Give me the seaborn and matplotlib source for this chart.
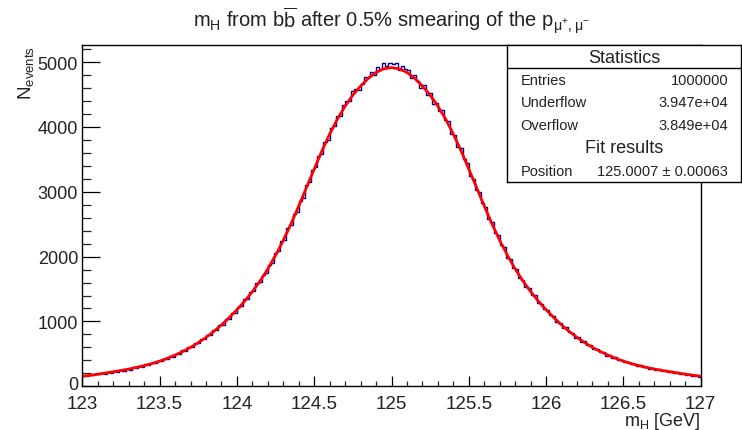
import numpy as np
import pandas as pd
import matplotlib
matplotlib.use("Agg")
import matplotlib.pyplot as plt
import matplotlib.transforms as mtransforms
import seaborn as sns
from matplotlib.ticker import MultipleLocator

# ---------------- data ----------------
mass_min, mass_max = 123.0, 127.0
bin_width = 0.02          # GeV per histogram bin
fit_step = 0.05           # GeV between tabulated fit-curve points

# histogram bin contents, 123.00 -> 127.00 GeV (200 bins of 0.02 GeV)
hist_counts = [
    166, 155, 178, 167, 193, 183, 208, 196, 224, 210,
    239, 226, 256, 242, 272, 259, 292, 281, 314, 302,
    337, 328, 365, 353, 393, 386, 427, 419, 466, 457,
    504, 501, 555, 550, 603, 599, 661, 660, 725, 723,
    790, 794, 867, 867, 946, 948, 1033, 1043, 1132, 1136,
    1226, 1244, 1342, 1346, 1450, 1468, 1589, 1605, 1724, 1743,
    1872, 1906, 2055, 2092, 2234, 2261, 2438, 2480, 2655, 2695,
    2862, 2911, 3100, 3149, 3338, 3381, 3548, 3585, 3774, 3803,
    3986, 4008, 4165, 4170, 4335, 4394, 4397, 4550, 4591, 4567,
    4664, 4777, 4770, 4846, 4797, 4921, 4893, 4990, 4943, 4991,
    4971, 4988, 4875, 4943, 4891, 4877, 4756, 4795, 4712, 4594,
    4642, 4496, 4520, 4352, 4374, 4240, 4255, 4110, 4088, 3886,
    3868, 3689, 3680, 3498, 3441, 3238, 3199, 3025, 2996, 2822,
    2765, 2580, 2530, 2358, 2331, 2184, 2152, 1985, 1961, 1822,
    1808, 1674, 1645, 1529, 1518, 1410, 1401, 1287, 1274, 1186,
    1181, 1092, 1078, 988, 983, 906, 910, 830, 829, 747,
    753, 685, 697, 633, 634, 572, 582, 527, 530, 474,
    483, 436, 449, 404, 411, 369, 381, 337, 348, 313,
    327, 292, 303, 268, 281, 251, 266, 232, 246, 219,
    232, 203, 216, 186, 200, 174, 188, 162, 174, 151,
]

# fit curve values, 123.00 -> 127.00 GeV every 0.05 GeV
fit_counts = [
    155, 170, 187, 205, 224, 244, 266, 291, 319, 351,
    388, 431, 481, 537, 600, 672, 754, 845, 946, 1058,
    1180, 1312, 1460, 1625, 1810, 2020, 2250, 2505, 2780, 3065,
    3350, 3630, 3890, 4120, 4320, 4490, 4630, 4750, 4840, 4895,
    4915,
    4895, 4840, 4750, 4630, 4490, 4320, 4120, 3890, 3630, 3350,
    3065, 2780, 2505, 2250, 2020, 1810, 1625, 1460, 1312, 1180,
    1058, 946, 845, 754, 672, 600, 537, 481, 431, 388,
    351, 319, 291, 266, 244, 224, 205, 187, 170, 155,
]

x_ticks = [123, 123.5, 124, 124.5, 125, 125.5, 126, 126.5, 127]
x_tick_labels = ["123", "123.5", "124", "124.5", "125", "125.5", "126", "126.5", "127"]
y_ticks = [0, 1000, 2000, 3000, 4000, 5000]
y_tick_labels = ["0", "1000", "2000", "3000", "4000", "5000"]

stats_title = "Statistics"
stats_names = ["Entries", "Underflow", "Overflow"]
stats_values = ["1000000", "3.947e+04", "3.849e+04"]
fit_title = "Fit results"
fit_names = ["Position"]
fit_values = ["125.0007 \u00b1 0.00063"]

title_text = r"m$_H$ from b$\overline{b}$ after 0.5% smearing of the p$_{\mu^{+},\mu^{-}}$"
xlabel_text = r"m$_H$ [GeV]"
ylabel_text = r"N$_{events}$"

# ---------------- style ----------------
sns.set_theme(style="white")
plt.rcParams["font.family"] = ["Liberation Sans", "DejaVu Sans"]
plt.rcParams["mathtext.default"] = "regular"
plt.rcParams["axes.unicode_minus"] = False

W, H = 742, 431
fig = plt.figure(figsize=(W / 100, H / 100), dpi=100)
fig.patch.set_facecolor("white")

ax_l, ax_r, ax_t, ax_b = 82.3, 700.7, 46.0, 387.3
ax = fig.add_axes([ax_l / W, 1 - ax_b / H, (ax_r - ax_l) / W, (ax_b - ax_t) / H])
ax.set_facecolor("white")

n_bins = len(hist_counts)
edges = np.linspace(mass_min, mass_max, n_bins + 1)
centers = 0.5 * (edges[:-1] + edges[1:])
hist_df = pd.DataFrame({"mass": centers, "count": hist_counts})

sns.histplot(data=hist_df, x="mass", weights="count", bins=n_bins,
             binrange=(mass_min, mass_max),
             element="step", fill=False, color="#000099", linewidth=1.0, ax=ax)

fit_df = pd.DataFrame({"mass": np.linspace(mass_min, mass_max, len(fit_counts)),
                       "count": fit_counts})
sns.lineplot(data=fit_df, x="mass", y="count", color="#ff0000", linewidth=2.0, ax=ax)

ax.set_xlim(mass_min, mass_max)
ax.set_ylim(0, 5263)

ax.set_xticks(x_ticks)
ax.set_xticklabels(x_tick_labels, fontsize=13.5)
ax.set_yticks(y_ticks)
ax.set_yticklabels(y_tick_labels, fontsize=13)
ax.xaxis.set_minor_locator(MultipleLocator(0.1))
ax.yaxis.set_minor_locator(MultipleLocator(200))
ax.tick_params(axis="x", which="major", direction="in", length=7.2, width=0.9,
               bottom=True, top=False, pad=6, colors="black", labelcolor="#222222")
ax.tick_params(axis="x", which="minor", direction="in", length=3.6, width=0.9,
               bottom=True, top=False)
ax.tick_params(axis="y", which="major", direction="in", length=12.7, width=0.9,
               left=True, right=False, pad=3, colors="black", labelcolor="#222222")
ax.tick_params(axis="y", which="minor", direction="in", length=6.5, width=0.9,
               left=True, right=False)
# nudge the "0" label up a little so it does not collide with "123"
zero_lbl = ax.get_yticklabels()[0]
zero_lbl.set_transform(zero_lbl.get_transform() +
                       mtransforms.ScaledTranslation(0, 4 / 100, fig.dpi_scale_trans))
for sp in ax.spines.values():
    sp.set_color("black")
    sp.set_linewidth(1.0)
    sp.set_visible(True)

ax.set_xlabel(xlabel_text, loc="right", fontsize=13, labelpad=-1, color="#222222")
ax.set_ylabel(ylabel_text, loc="top", fontsize=13.5, labelpad=1, color="#222222")
ax.set_title(title_text, fontsize=14.5, pad=13, color="#222222")

# ---------------- statistics box ----------------
bx_l, bx_r, bx_t, bx_b = 507.3, 740.7, 46.0, 183.3
bw, bh = bx_r - bx_l, bx_b - bx_t
box = fig.add_axes([bx_l / W, 1 - bx_b / H, bw / W, bh / H])
box.set_xlim(0, bw)
box.set_ylim(bh, 0)
box.set_xticks([])
box.set_yticks([])
box.set_facecolor("white")
for sp in box.spines.values():
    sp.set_color("black")
    sp.set_linewidth(1.0)
box.plot([0, bw], [23.3, 23.3], color="black", linewidth=1.0)

box.text(bw / 2, 12.3, stats_title, ha="center", va="center", fontsize=13, color="#222222")
row_y = [34.7, 57.3, 80.0]
for yy, name, val in zip(row_y, stats_names, stats_values):
    box.text(13.4, yy, name, ha="left", va="center", fontsize=10.5, color="#222222")
    box.text(221.0, yy, val, ha="right", va="center", fontsize=10.5, color="#222222")
box.text(bw / 2, 102.3, fit_title, ha="center", va="center", fontsize=13, color="#222222")
for yy, name, val in zip([125.7], fit_names, fit_values):
    box.text(13.4, yy, name, ha="left", va="center", fontsize=10.5, color="#222222")
    box.text(221.0, yy, val, ha="right", va="center", fontsize=10.5, color="#222222")

fig.savefig("out.png", dpi=100, facecolor="white")
